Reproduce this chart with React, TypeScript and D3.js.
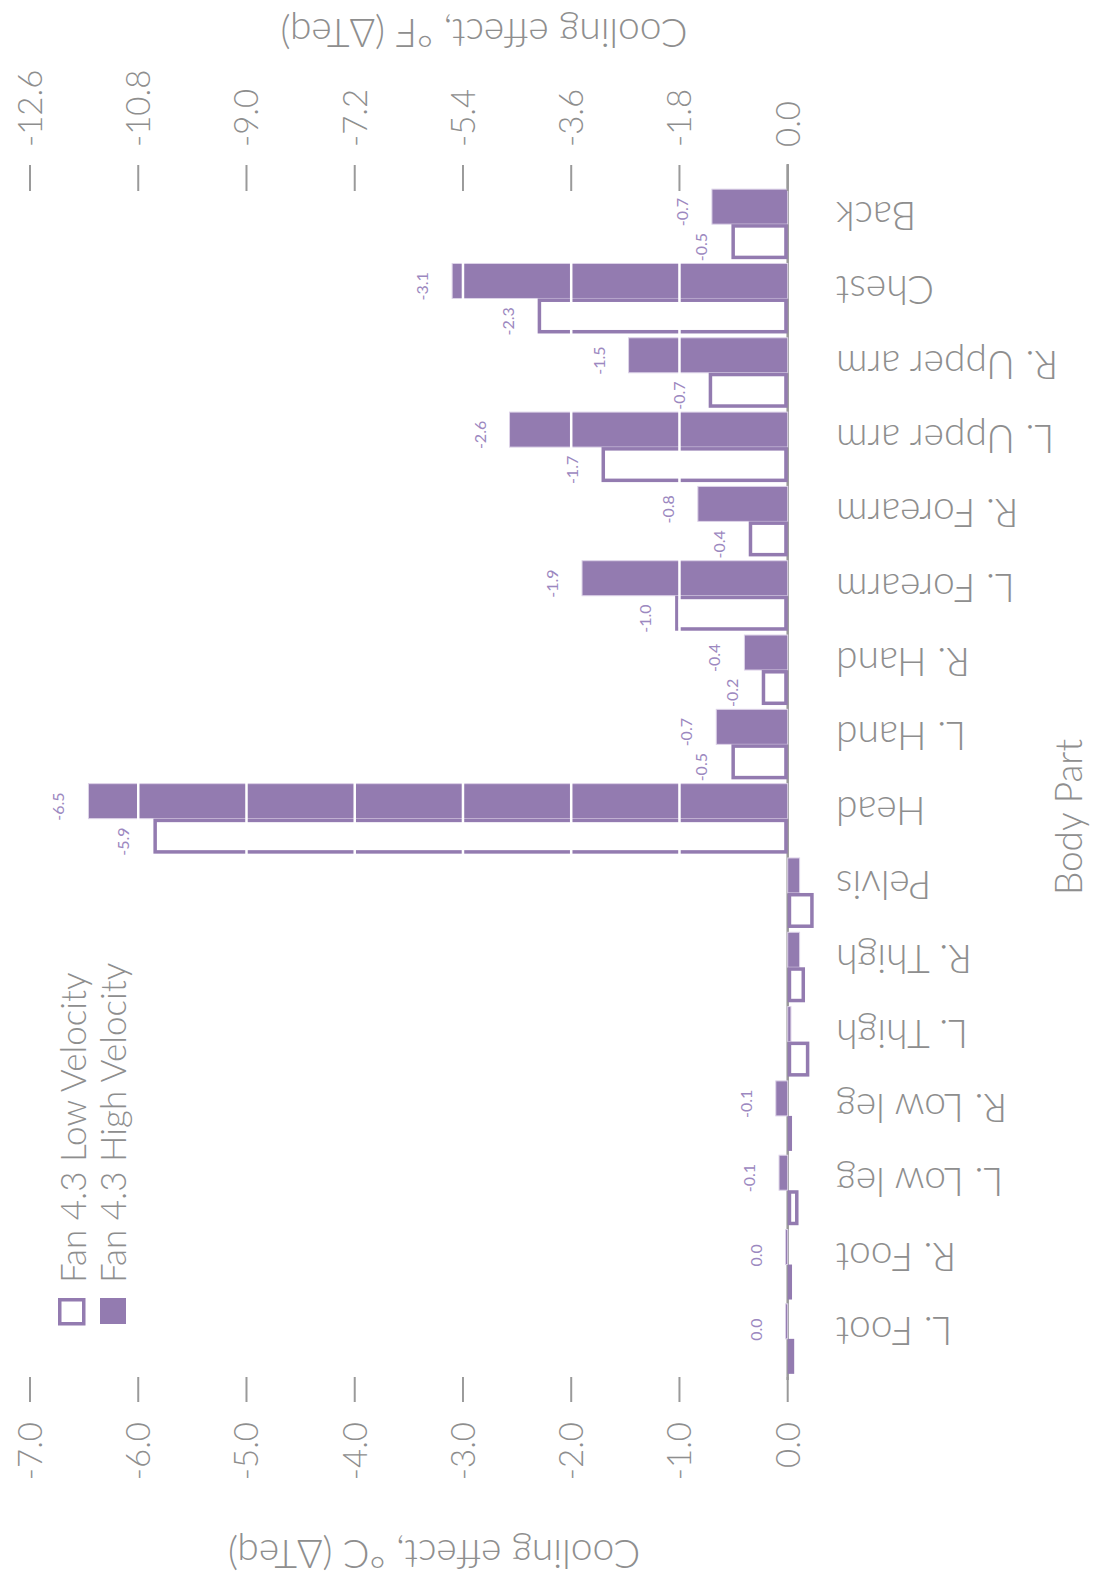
import React from "react";
import * as d3 from "d3";

const bodyParts = [
  "Back", "Chest", "R. Upper arm", "L. Upper arm", "R. Forearm", "L. Forearm",
  "R. Hand", "L. Hand", "Head", "Pelvis", "R. Thigh", "L. Thigh",
  "R. Low leg", "L. Low leg", "R. Foot", "L. Foot",
];
// cooling effect in °C (ΔTeq)
const highVelocity = [-0.7, -3.1, -1.47, -2.57, -0.83, -1.9, -0.4, -0.66, -6.46, 0.11, 0.11, 0.03, -0.11, -0.08, -0.02, -0.02];
const lowVelocity = [-0.52, -2.31, -0.73, -1.72, -0.36, -1.04, -0.24, -0.52, -5.86, 0.24, 0.16, 0.2, 0.04, 0.1, 0.04, 0.06];
const seriesNames = ["Fan 4.3 High Velocity", "Fan 4.3 Low Velocity"];
const cTicks = [-7, -6, -5, -4, -3, -2, -1, 0];
const fTicks = [-12.6, -10.8, -9.0, -7.2, -5.4, -3.6, -1.8, 0.0];

const W = 1093;
const H = 1581;
const purple = "#937bb0";
const labelPurple = "#9c88c0";
const grey = "#8e8e8e";
const font = "Lato, 'Open Sans', sans-serif";

const fmt = (v: number) => d3.format(".1f")(v).replace("\u2212", "-");

export default function App() {
  const x = d3.scaleLinear().domain([-7, 0]).range([30, 787.7]);
  const y = d3.scaleBand<string>().domain(bodyParts).range([187, 1376]).paddingInner(0.058).paddingOuter(0.029);
  const sub = d3.scaleBand<string>().domain(seriesNames).range([0, y.bandwidth()]);
  const sw = 3.5;

  const bars: React.ReactNode[] = [];
  const labels: React.ReactNode[] = [];
  bodyParts.forEach((bp, i) => {
    const y0 = y(bp) || 0;
    [highVelocity[i], lowVelocity[i]].forEach((v, s) => {
      const top = y0 + (sub(seriesNames[s]) || 0);
      const h = sub.bandwidth();
      const xa = Math.min(x(0), x(v));
      const w = Math.abs(x(v) - x(0));
      if (s === 0 || w <= sw * 2) {
        bars.push(
          <rect key={`b${i}-${s}`} x={xa} y={top} width={Math.max(w, 1.5)} height={h}
            fill={purple} stroke={s === 0 ? "#ddd3e8" : "none"} strokeWidth={1} />
        );
      } else {
        bars.push(
          <rect key={`b${i}-${s}`} x={xa + sw / 2} y={top + sw / 2} width={w - sw} height={h - sw}
            fill="#fff" stroke={purple} strokeWidth={sw} />
        );
      }
      if (v < 0) {
        labels.push(
          <text key={`l${i}-${s}`} transform={`translate(${x(v) - 24},${top + h + 2}) rotate(-90)`}
            fontSize={16} fill={labelPurple} fontFamily={font} textAnchor="start">
            {fmt(v)}
          </text>
        );
      }
    });
  });

  return (
    <svg width={W} height={H} style={{ position: "absolute", left: 0, top: 0, background: "#fff" }}>
      {/* zero axis line */}
      <line x1={x(0)} x2={x(0)} y1={164} y2={1380} stroke="#9a9a9a" strokeWidth={2.5} />
      {bars}
      {/* white gridlines over bars */}
      {cTicks.filter((t) => t < 0 && t > -7).map((t) => (
        <line key={`g${t}`} x1={x(t)} x2={x(t)} y1={185} y2={1378} stroke="#fff" strokeWidth={2.5} />
      ))}
      {labels}

      {/* bottom axis, °C */}
      {cTicks.map((t) => (
        <g key={`c${t}`}>
          <line x1={x(t)} x2={x(t)} y1={1377} y2={1402} stroke="#9a9a9a" strokeWidth={2} />
          <text transform={`translate(${x(t)},1422) rotate(-90)`} dy="0.36em" textAnchor="end"
            fontSize={33} fill={grey} fontFamily={font} fontWeight={300}>
            {t.toFixed(1)}
          </text>
        </g>
      ))}
      <text transform={`translate(434,1540) rotate(180)`} textAnchor="middle"
        fontSize={39} fill={grey} fontFamily={font} fontWeight={300}>
        Cooling effect, °C (ΔTeq)
      </text>

      {/* top axis, °F */}
      {fTicks.map((t) => (
        <g key={`f${t}`}>
          <line x1={x(t / 1.8)} x2={x(t / 1.8)} y1={165} y2={191} stroke="#9a9a9a" strokeWidth={2} />
          <text transform={`translate(${x(t / 1.8)},147) rotate(-90)`} dy="0.36em" textAnchor="start"
            fontSize={33} fill={grey} fontFamily={font} fontWeight={300}>
            {t.toFixed(1)}
          </text>
        </g>
      ))}
      <text transform={`translate(484,19) rotate(180)`} textAnchor="middle"
        fontSize={39} fill={grey} fontFamily={font} fontWeight={300}>
        Cooling effect, °F (ΔTeq)
      </text>

      {/* category labels */}
      {bodyParts.map((bp) => (
        <text key={`t${bp}`} transform={`translate(836,${(y(bp) || 0) + y.bandwidth() / 2 - 22}) rotate(180)`}
          textAnchor="end" fontSize={39} fill={grey} fontFamily={font} fontWeight={300}>
          {bp}
        </text>
      ))}
      <text transform={`translate(1082,817) rotate(-90)`} textAnchor="middle"
        fontSize={37} fill={grey} fontFamily={font} fontWeight={300}>
        Body Part
      </text>

      {/* legend */}
      <rect x={58 + 1.75} y={1298 + 1.75} width={24} height={24} fill="#fff" stroke={purple} strokeWidth={3.5} />
      <text transform="translate(86,1283) rotate(-90)" textAnchor="start" fontSize={35} fill={grey}
        fontFamily={font} fontWeight={300}>
        {seriesNames[1]}
      </text>
      <rect x={100} y={1298} width={26} height={26} fill={purple} />
      <text transform="translate(126,1283) rotate(-90)" textAnchor="start" fontSize={35} fill={grey}
        fontFamily={font} fontWeight={300}>
        {seriesNames[0]}
      </text>
    </svg>
  );
}
